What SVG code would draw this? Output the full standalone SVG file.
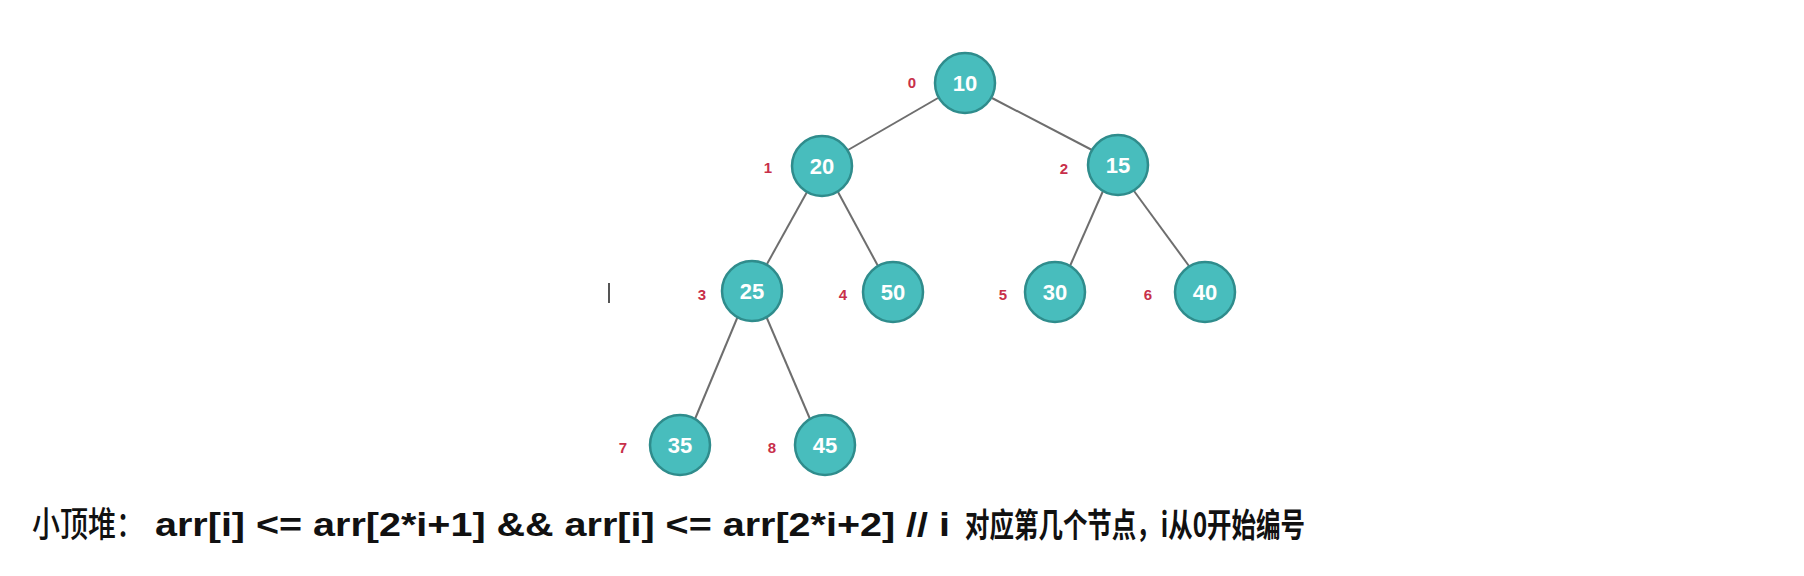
<svg xmlns="http://www.w3.org/2000/svg" width="1804" height="576" viewBox="0 0 1804 576">
<style>
.node circle{fill:#48bdbd;stroke:#2f8c8c;stroke-width:2.5}
.node text.v{font-family:"Liberation Sans",Arial,sans-serif;font-size:22px;font-weight:bold;fill:#ffffff;text-anchor:middle;dominant-baseline:central}
.node text.i{font-family:"Liberation Sans",Arial,sans-serif;font-size:15px;font-weight:bold;fill:#c8304a;text-anchor:middle;dominant-baseline:central}
.edges line{stroke:#6e6e6e;stroke-width:2}
.cap{font-family:"Liberation Sans","Noto Sans CJK SC",sans-serif;font-size:33px;font-weight:bold;fill:#111}
.capzh{font-family:"Noto Sans CJK SC",sans-serif;font-size:33px;font-weight:bold;fill:#111}
.capzh0{font-family:"Noto Sans CJK SC",sans-serif;font-size:35px;font-weight:500;fill:#111}
</style>
<rect width="1804" height="576" fill="#ffffff"/>
<g id="connectors" class="edges">
<line x1="938" y1="98" x2="848" y2="150"/>
<line x1="992" y1="98" x2="1092" y2="150"/>
<line x1="807" y1="192" x2="767" y2="264"/>
<line x1="838" y1="192" x2="878" y2="266"/>
<line x1="1103" y1="191" x2="1070" y2="266"/>
<line x1="1134" y1="191" x2="1189" y2="266"/>
<line x1="738" y1="316" x2="695" y2="419"/>
<line x1="766" y1="316" x2="810" y2="419"/>
</g>
<g id="node-0" class="node"><circle cx="965" cy="83" r="30"/><text class="v" x="965" y="83">10</text><text class="i" x="912" y="82">0</text></g>
<g id="node-1" class="node"><circle cx="822" cy="166" r="30"/><text class="v" x="822" y="166">20</text><text class="i" x="768" y="167">1</text></g>
<g id="node-2" class="node"><circle cx="1118" cy="165" r="30"/><text class="v" x="1118" y="165">15</text><text class="i" x="1064" y="168">2</text></g>
<g id="node-3" class="node"><circle cx="752" cy="291" r="30"/><text class="v" x="752" y="291">25</text><text class="i" x="702" y="294">3</text></g>
<g id="node-4" class="node"><circle cx="893" cy="292" r="30"/><text class="v" x="893" y="292">50</text><text class="i" x="843" y="294">4</text></g>
<g id="node-5" class="node"><circle cx="1055" cy="292" r="30"/><text class="v" x="1055" y="292">30</text><text class="i" x="1003" y="294">5</text></g>
<g id="node-6" class="node"><circle cx="1205" cy="292" r="30"/><text class="v" x="1205" y="292">40</text><text class="i" x="1148" y="294">6</text></g>
<g id="node-7" class="node"><circle cx="680" cy="445" r="30"/><text class="v" x="680" y="445">35</text><text class="i" x="623" y="447">7</text></g>
<g id="node-8" class="node"><circle cx="825" cy="445" r="30"/><text class="v" x="825" y="445">45</text><text class="i" x="772" y="447">8</text></g>
<line x1="609" y1="283" x2="609" y2="303" stroke="#555" stroke-width="2"/>
<text class="capzh0" x="32" y="537" textLength="112" lengthAdjust="spacingAndGlyphs">小顶堆：</text>
<text class="cap" x="155" y="536" textLength="795" lengthAdjust="spacingAndGlyphs">arr[i] &lt;= arr[2*i+1] &amp;&amp; arr[i] &lt;= arr[2*i+2] // i</text>
<text class="capzh" x="965" y="537" textLength="340" lengthAdjust="spacingAndGlyphs">对应第几个节点，i从0开始编号</text>
</svg>
